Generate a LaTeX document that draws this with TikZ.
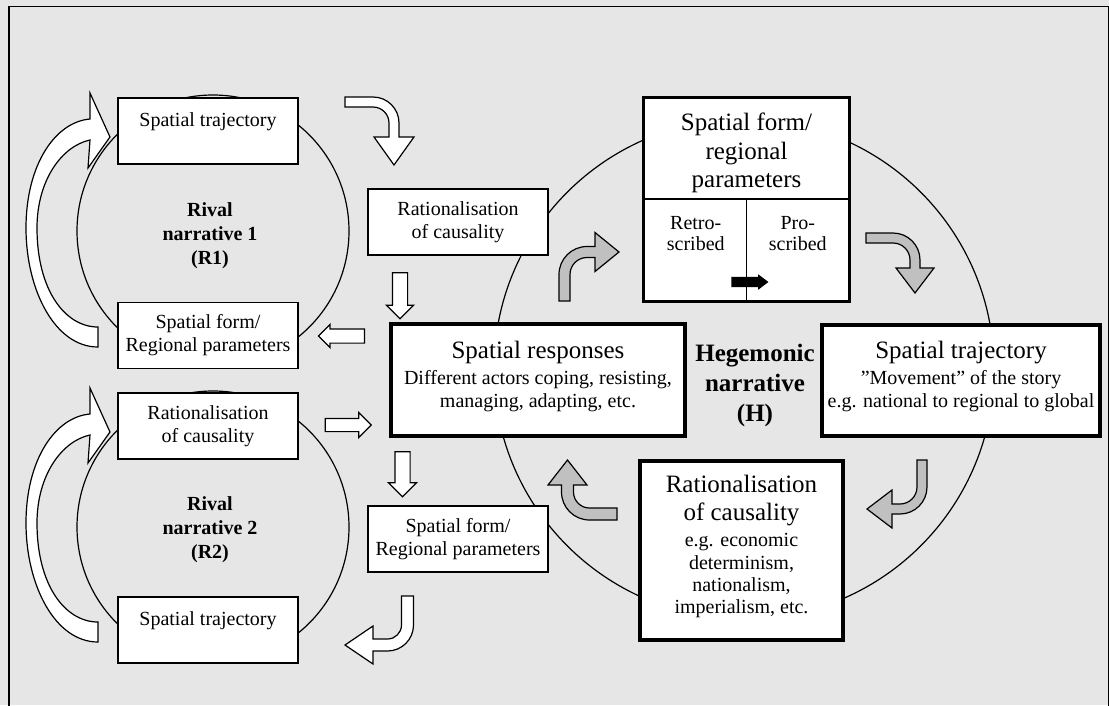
\documentclass[tikz,border=0pt]{standalone}
\usepackage{fontspec}
\setmainfont{Liberation Serif}
\usetikzlibrary{shapes.arrows}
\definecolor{bggray}{RGB}{230,230,230}
\definecolor{arrowgray}{RGB}{192,192,192}
\tikzset{
  pics/bent/.style n args={6}{code={
    \path[pic actions] (0,-#1/2) -- (#4,-#1/2) arc[start angle=270, end angle=360, radius=#5+#1/2]
      -- ++(0,#6) -- ++(#2/2-#1/2,0) -- (#4+#5,#5+#6+#3) -- (#4+#5-#2/2,#5+#6) -- ++(#2/2-#1/2,0)
      -- (#4+#5-#1/2,#5) arc[start angle=0, end angle=-90, radius=#5-#1/2] -- (0,#1/2) -- cycle;
  }},
  pics/rivalloop/.style={code={
    \path[pic actions] (98,347) .. controls (55,347) and (26,290) .. (26,228)
      .. controls (26,165) and (55,122) .. (90,119) -- (90,93) -- (110,137) -- (88,168) -- (90,140)
      .. controls (62,146) and (37,180) .. (37,228) .. controls (37,290) and (65,327) .. (98,327) -- cycle;
  }}
}
\begin{document}
\begin{tikzpicture}
      [
      x=1pt, y=1pt, yscale=-1,
      rivalbox/.style={draw,fill=white,line width=1.2pt,inner sep=0pt,minimum width=180pt,minimum height=66pt,align=center,font=\fontsize{20}{23}\selectfont},
      hegbox/.style={draw,fill=white,line width=3.5pt,inner sep=0pt,align=center,font=\fontsize{20}{23}\selectfont},
      cell/.style={draw,fill=white,line width=1.2pt,inner sep=0pt,minimum width=102pt,minimum height=101.5pt,align=center,font=\fontsize{20}{21}\selectfont},
      narrloop/.style={circle,draw,line width=1.2pt,inner sep=0pt},
      narrlabel/.style={align=center,font=\bfseries\fontsize{20}{24}\selectfont},
      blockarrow/.style={single arrow,draw,fill=white,line width=1.2pt,minimum width=0pt},
      whitebent/.style={transform shape,draw,fill=white,line width=1.2pt},
      graybent/.style={transform shape,draw,fill=arrowgray,line width=1.2pt}
      ]
      \useasboundingbox[fill=bggray] (0,0) rectangle (1109,705);
      \draw [line width=1.8pt] (9,6.5) rectangle (1108.5,720);
      \node (r1loop) at (213,231) [narrloop,minimum size=272pt] {};
      \node (r2loop) at (213,527) [narrloop,minimum size=272pt] {};
      \node (hloop) at (744,369) [narrloop,minimum size=500pt] {};
      \node (r1traj) at (208,131) [rivalbox] {Spatial trajectory\\~};
      \node (r1form) at (208,335.5) [rivalbox] {Spatial form/\\Regional parameters};
      \node (r2rat) at (208,426) [rivalbox] {Rationalisation\\of causality};
      \node (r2traj) at (208,630) [rivalbox] {Spatial trajectory\\~};
      \node (crat) at (458,222) [rivalbox] {Rationalisation\\of causality};
      \node (cform) at (458,539) [rivalbox] {Spatial form/\\Regional parameters};
      \node (r1label) at (210,235.5) [narrlabel] {Rival\\narrative 1\\(R1)};
      \node (r2label) at (210,529.5) [narrlabel] {Rival\\narrative 2\\(R2)};
      \node (hlabel) at (755,385.5) [narrlabel,font=\bfseries\fontsize{25}{30}\selectfont] {Hegemonic\\narrative\\(H)};
      \node (resp) at (538,380) [hegbox,minimum width=294pt,minimum height=112pt] {{\fontsize{25}{25}\selectfont Spatial responses}\\[3pt]Different actors coping, resisting,\\managing, adapting, etc.\\[-12pt]~};
      \node (htraj) at (961,380.5) [hegbox,minimum width=278pt,minimum height=111pt] {{\fontsize{25}{25}\selectfont Spatial trajectory}\\[3pt]”Movement” of the story\\e.g. national to regional to global\\[-10pt]~};
      \node (hrat) at (741.5,550.5) [hegbox,minimum width=203pt,minimum height=179pt,font=\fontsize{20}{22.3}\selectfont] {{\fontsize{25}{25}\selectfont Rationalisation}\\[5.7pt]{\fontsize{25}{25}\selectfont of causality}\\[4pt]e.g. economic\\determinism,\\nationalism,\\imperialism, etc.\\[-10pt]~};
      \node (hform) at (746.5,148.75) [cell,minimum width=204pt,minimum height=100.5pt,font=\fontsize{25}{28.5}\selectfont] {~\\[-2.5pt]Spatial form/\\regional\\parameters};
      \node (retro) at (695.75,249.75) [cell] {Retro-\\scribed\\[12pt]~};
      \node (pro) at (797.75,249.75) [cell] {Pro-\\scribed\\[12pt]~};
      \draw [line width=3pt] (hform.north west) rectangle (pro.south east);
      \node (shift) at (746.5,282) [single arrow,fill=black,inner xsep=0pt,inner ysep=5pt,minimum width=0pt,minimum height=37pt,single arrow head extend=2.5pt,single arrow tip angle=74] {};
      \node (cratdown) at (400,292) [blockarrow,inner xsep=7pt,inner ysep=0pt,single arrow head extend=6pt,minimum height=46pt,shape border rotate=270] {};
      \node (respdown) at (402.5,470.5) [blockarrow,inner xsep=7pt,inner ysep=0pt,single arrow head extend=6.5pt,minimum height=45pt,shape border rotate=270] {};
      \node (respleft) at (345,336) [blockarrow,inner xsep=0pt,inner ysep=6.5pt,single arrow head extend=4.5pt,minimum height=46pt,shape border rotate=180] {};
      \node (respright) at (345,425) [blockarrow,inner xsep=0pt,inner ysep=6pt,single arrow head extend=6pt,minimum height=46pt] {};
      \pic [whitebent] at (0,0) {rivalloop};
      \pic [whitebent] at (0,295) {rivalloop};
      \pic [whitebent] at (345,102) {bent={10}{40}{28}{28}{21}{14}};
      \pic [whitebent,rotate=90] at (407.5,596) {bent={12}{38}{28}{29}{20}{14.5}};
      \pic [graybent,rotate=-90] at (564.5,301) {bent={11}{39}{24}{26.5}{22.5}{8}};
      \pic [graybent] at (866,238) {bent={10}{38}{25}{27}{22}{8}};
      \pic [graybent,rotate=90] at (922,460) {bent={10}{38}{25}{27}{22}{8}};
      \pic [graybent,rotate=180] at (617,514) {bent={12}{39}{25}{27.5}{22}{7}};
\end{tikzpicture}
\end{document}
